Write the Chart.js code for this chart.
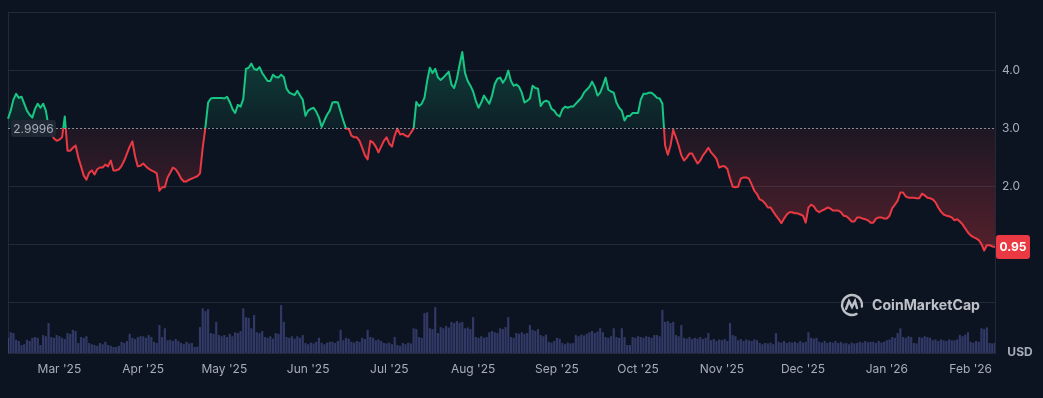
<!DOCTYPE html>
<html>
<head>
<meta charset="utf-8">
<script src="https://cdn.jsdelivr.net/npm/chart.js@4.4.1/dist/chart.umd.min.js"></script>
<style>
  html, body { margin: 0; padding: 0; background: #0d1421; }
  #wrap { width: 1043px; height: 398px; }
</style>
</head>
<body>
<div id="wrap"><canvas id="myChart" width="1043" height="398"></canvas></div>
<script>
// daily closing price (USD), 10 Feb 2025 -> 10 Feb 2026
const startDate = '2025-02-10';
const prices = [
  3.16,3.30,3.49,3.59,3.52,3.54,3.42,3.30,3.23,3.18,
  3.33,3.42,3.35,3.42,3.30,3.02,2.90,2.82,2.78,2.80,
  2.84,3.20,2.61,2.61,2.66,2.70,2.49,2.34,2.18,2.11,
  2.23,2.27,2.20,2.29,2.32,2.32,2.37,2.34,2.44,2.27,
  2.27,2.29,2.35,2.44,2.56,2.68,2.77,2.51,2.34,2.35,
  2.39,2.34,2.30,2.27,2.25,2.22,1.92,1.98,1.98,2.15,
  2.23,2.32,2.29,2.22,2.13,2.08,2.08,2.11,2.13,2.15,
  2.17,2.22,2.66,3.01,3.44,3.51,3.52,3.52,3.52,3.52,
  3.51,3.54,3.45,3.33,3.26,3.40,3.37,3.50,4.02,4.04,
  4.11,4.02,4.00,4.05,3.95,3.88,3.81,3.81,3.92,3.88,
  3.87,3.92,3.88,3.68,3.61,3.59,3.57,3.64,3.56,3.49,
  3.21,3.30,3.33,3.35,3.28,3.18,3.02,3.13,3.23,3.30,
  3.44,3.45,3.44,3.28,3.13,2.99,2.99,2.87,2.84,2.84,
  2.78,2.66,2.53,2.46,2.78,2.75,2.68,2.58,2.68,2.78,
  2.84,2.73,2.68,2.87,2.99,2.89,2.90,2.87,2.85,2.92,
  2.99,3.45,3.38,3.42,3.52,3.81,4.04,3.95,4.02,3.87,
  3.83,3.87,3.92,3.97,3.75,3.69,3.85,4.09,4.31,3.95,
  3.81,3.73,3.63,3.47,3.35,3.44,3.56,3.49,3.42,3.56,
  3.76,3.85,3.87,3.78,3.85,3.99,3.81,3.73,3.75,3.71,
  3.61,3.44,3.47,3.51,3.73,3.69,3.68,3.38,3.45,3.47,
  3.45,3.33,3.30,3.23,3.20,3.32,3.37,3.35,3.37,3.37,
  3.42,3.47,3.52,3.61,3.66,3.71,3.80,3.71,3.56,3.61,
  3.73,3.87,3.66,3.63,3.61,3.44,3.35,3.30,3.13,3.21,
  3.21,3.26,3.26,3.26,3.49,3.59,3.59,3.61,3.61,3.57,
  3.52,3.51,3.42,2.70,2.54,2.70,2.97,2.84,2.70,2.53,
  2.44,2.49,2.56,2.56,2.47,2.39,2.44,2.53,2.59,2.66,
  2.58,2.53,2.47,2.32,2.34,2.34,2.30,2.13,1.99,1.98,
  1.99,2.13,2.15,2.15,2.13,2.03,1.92,1.86,1.77,1.75,
  1.70,1.63,1.63,1.56,1.49,1.43,1.36,1.44,1.51,1.55,
  1.55,1.53,1.53,1.51,1.49,1.37,1.63,1.68,1.65,1.58,
  1.55,1.58,1.60,1.63,1.62,1.58,1.58,1.58,1.55,1.49,
  1.48,1.44,1.39,1.39,1.46,1.46,1.44,1.43,1.41,1.37,
  1.37,1.44,1.46,1.46,1.44,1.44,1.49,1.62,1.68,1.75,
  1.89,1.89,1.82,1.80,1.80,1.80,1.79,1.79,1.87,1.84,
  1.80,1.79,1.77,1.72,1.63,1.56,1.51,1.49,1.48,1.46,
  1.41,1.43,1.39,1.34,1.27,1.20,1.15,1.12,1.10,1.07,
  1.00,0.89,0.98,0.98,0.96,0.95
];

// daily volume (million USD)
const volumes = [
  38,52,50,33,30,20,22,33,30,38,
  40,38,20,45,42,75,40,38,45,42,
  38,35,50,48,58,55,25,40,38,42,
  25,22,20,18,25,22,28,20,18,15,
  15,18,28,25,30,48,38,35,40,42,
  42,38,45,40,28,25,70,40,62,32,
  33,30,35,30,25,22,28,24,25,15,
  16,65,112,105,110,50,48,78,45,42,
  45,40,48,42,52,50,55,112,90,88,
  62,95,52,50,55,40,38,42,36,50,
  48,120,78,40,38,42,36,42,38,45,
  25,22,26,24,28,38,25,22,26,28,
  28,25,30,58,32,38,36,28,26,30,
  28,38,35,58,40,38,32,34,30,25,
  24,26,22,40,20,18,25,22,26,24,
  62,60,40,38,100,102,62,60,115,50,
  65,62,68,64,78,75,80,76,78,62,
  64,60,90,40,38,42,38,40,52,55,
  52,50,62,60,65,90,40,38,50,48,
  52,48,50,70,58,55,60,45,42,46,
  28,26,30,38,36,25,22,26,24,25,
  45,42,46,44,48,52,55,50,54,62,
  52,40,38,42,62,40,38,62,40,20,
  20,40,38,42,40,38,42,40,38,45,
  45,42,108,78,80,75,78,45,42,70,
  38,36,40,35,38,36,40,35,38,50,
  32,35,30,34,32,35,30,75,45,42,
  32,35,30,34,32,30,34,32,25,22,
  25,24,26,22,50,28,26,30,25,28,
  26,28,25,30,26,28,52,38,36,38,
  28,26,30,25,28,26,30,25,28,24,
  25,22,26,24,25,28,26,30,27,28,
  28,25,30,26,28,32,34,40,38,50,
  62,40,38,42,40,25,24,40,38,42,
  40,38,32,34,30,34,32,30,34,32,
  32,34,45,42,46,52,28,26,30,28,
  62,60,64,25,24,26
];

const priceTicks = [0, 1, 2, 3, 4, 5];
const labelledTicks = [2, 3, 4];
const baseline = 2.9996;
const lastPrice = 0.95;
const monthNames = ['Jan','Feb','Mar','Apr','May','Jun','Jul','Aug','Sep','Oct','Nov','Dec'];

const GREEN = '#16c784';
const RED = '#ea3943';
const BG = '#0d1421';
const GRID = '#222a3a';
const TEXT = '#a6acbb';

// 날짜 라벨 만들기
const t0 = new Date(startDate + 'T00:00:00Z').getTime();
const dates = prices.map((_, i) => new Date(t0 + i * 86400000));
const labels = dates.map(d => d.toISOString().slice(0, 10));

const splitGradient = (ctx, alphaTop, alphaBase, alphaBottom) => {
  const chart = ctx.chart;
  const area = chart.chartArea;
  if (!area) return GREEN;
  const yb = chart.scales.y.getPixelForValue(baseline);
  const s = (yb - area.top) / (area.bottom - area.top);
  const g = chart.ctx.createLinearGradient(0, area.top, 0, area.bottom);
  if (alphaTop === null) {
    g.addColorStop(0, GREEN);
    g.addColorStop(s, GREEN);
    g.addColorStop(s, RED);
    g.addColorStop(1, RED);
  } else {
    const yLow = chart.scales.y.getPixelForValue(0.9);
    const s2 = Math.min(1, (yLow - area.top) / (area.bottom - area.top));
    g.addColorStop(0, `rgba(22,199,132,${alphaTop})`);
    g.addColorStop(s, `rgba(22,199,132,${alphaBase})`);
    g.addColorStop(s, `rgba(234,57,67,${alphaBase})`);
    g.addColorStop(s2, `rgba(234,57,67,${alphaBottom})`);
    g.addColorStop(1, `rgba(234,57,67,${alphaBottom})`);
  }
  return g;
};

const bgPlugin = {
  id: 'bg',
  beforeDraw(chart) {
    const c = chart.ctx;
    c.save();
    c.fillStyle = BG;
    c.fillRect(0, 0, chart.width, chart.height);
    const a = chart.chartArea;
    c.strokeStyle = GRID;
    c.lineWidth = 1;
    c.beginPath();
    c.moveTo(a.left + 0.5, a.top);
    c.lineTo(a.left + 0.5, a.bottom);
    c.stroke();
    c.restore();
  }
};

const overlayPlugin = {
  id: 'overlay',
  beforeDatasetsDraw(chart) {
    // CoinMarketCap 워터마크
    const c = chart.ctx;
    c.save();
    const cx = 852, cy = 305, r = 10;
    c.strokeStyle = 'rgba(220,222,228,0.85)';
    c.lineWidth = 2.4;
    c.lineCap = 'round';
    c.beginPath();
    c.arc(cx, cy, r, 0.35 * Math.PI, 2.05 * Math.PI);
    c.stroke();
    c.beginPath();
    c.moveTo(cx - 6, cy + 4);
    c.lineTo(cx - 3, cy - 4);
    c.lineTo(cx, cy + 2);
    c.lineTo(cx + 3, cy - 4);
    c.lineTo(cx + 5, cy + 3);
    c.stroke();
    c.fillStyle = 'rgba(220,222,228,0.85)';
    let size = 15;
    c.font = `bold ${size}px Inter, sans-serif`;
    const w = c.measureText('CoinMarketCap').width;
    size = size * 108 / w;
    c.font = `bold ${size}px Inter, sans-serif`;
    c.textBaseline = 'middle';
    c.textAlign = 'left';
    c.fillText('CoinMarketCap', 872, 306);
    c.restore();
  },
  afterDatasetsDraw(chart) {
    const c = chart.ctx;
    const a = chart.chartArea;
    const y = chart.scales.y;
    const yb = Math.round(y.getPixelForValue(baseline)) + 0.5;
    c.save();
    // 기준선 (점선)
    c.strokeStyle = 'rgba(170,176,190,0.75)';
    c.lineWidth = 1;
    c.setLineDash([2, 2]);
    c.beginPath();
    c.moveTo(a.left, yb);
    c.lineTo(a.right, yb);
    c.stroke();
    c.setLineDash([]);

    // 기준가 라벨
    c.fillStyle = 'rgba(33,40,53,0.95)';
    c.beginPath();
    c.roundRect(11, yb - 8.5, 45, 17, 3);
    c.fill();
    c.fillStyle = TEXT;
    c.font = '12px Inter, sans-serif';
    c.textAlign = 'center';
    c.textBaseline = 'middle';
    c.fillText('2.9996', 33.5, yb + 0.5);

    // 현재가 라벨
    const yp = y.getPixelForValue(lastPrice);
    c.fillStyle = RED;
    c.beginPath();
    c.roundRect(a.right + 1, yp - 12, 34, 24, 3);
    c.fill();
    c.fillStyle = '#ffffff';
    c.font = 'bold 12px Inter, sans-serif';
    c.fillText(lastPrice.toFixed(2), a.right + 18, yp + 0.5);

    // 단위
    c.fillStyle = TEXT;
    c.font = 'bold 12px Inter, sans-serif';
    c.fillText('USD', 1020, 352);
    c.restore();
  }
};

const loadChart = () => {
  const chart = document.getElementById('myChart').getContext('2d');
  new Chart(chart, {
    data: {
      labels: labels,
      datasets: [
        {
          type: 'line',
          data: prices,
          yAxisID: 'y',
          order: 0,
          borderWidth: 2,
          borderJoinStyle: 'round',
          pointRadius: 0,
          tension: 0,
          borderColor: ctx => splitGradient(ctx, null),
          backgroundColor: ctx => splitGradient(ctx, 0.32, 0.07, 0.32),
          fill: { target: { value: baseline } }
        },
        {
          type: 'bar',
          data: volumes,
          yAxisID: 'yVol',
          order: 1,
          backgroundColor: 'rgba(80,90,160,0.55)',
          borderWidth: 0,
          barPercentage: 1,
          categoryPercentage: 0.8
        }
      ]
    },
    options: {
      responsive: false,
      animation: false,
      devicePixelRatio: 1,
      layout: { padding: { left: 8, top: 12, right: 0, bottom: 0 } },
      plugins: { legend: { display: false }, tooltip: { enabled: false } },
      scales: {
        x: {
          type: 'category',
          offset: false,
          grid: { display: false, drawTicks: false },
          border: { display: true, color: GRID },
          ticks: {
            autoSkip: false,
            maxRotation: 0,
            padding: 9,
            color: TEXT,
            font: { size: 12, family: 'Inter, sans-serif' },
            callback: (val, i) => {
              const d = dates[i];
              if (d.getUTCDate() !== 1) return '';
              return monthNames[d.getUTCMonth()] + " '" + String(d.getUTCFullYear()).slice(2);
            }
          },
          afterFit: s => { s.height = 45; s.paddingLeft = 0; s.paddingRight = 0; }
        },
        y: {
          position: 'right',
          min: -0.876,
          max: 5,
          afterBuildTicks: s => { s.ticks = priceTicks.map(v => ({ value: v })); },
          grid: {
            drawTicks: false,
            color: c => (c.tick && c.tick.value === 3 ? 'rgba(0,0,0,0)' : GRID)
          },
          border: { display: true, color: GRID },
          ticks: {
            padding: 7,
            color: TEXT,
            font: { size: 12, family: 'Inter, sans-serif' },
            callback: v => (labelledTicks.includes(v) ? v.toFixed(1) : '')
          },
          afterFit: s => { s.width = 48; s.paddingTop = 0; s.paddingBottom = 0; }
        },
        yVol: {
          display: false,
          min: 0,
          max: 855
        }
      }
    },
    plugins: [bgPlugin, overlayPlugin]
  });
};

document.addEventListener('DOMContentLoaded', loadChart);
</script>
</body>
</html>
